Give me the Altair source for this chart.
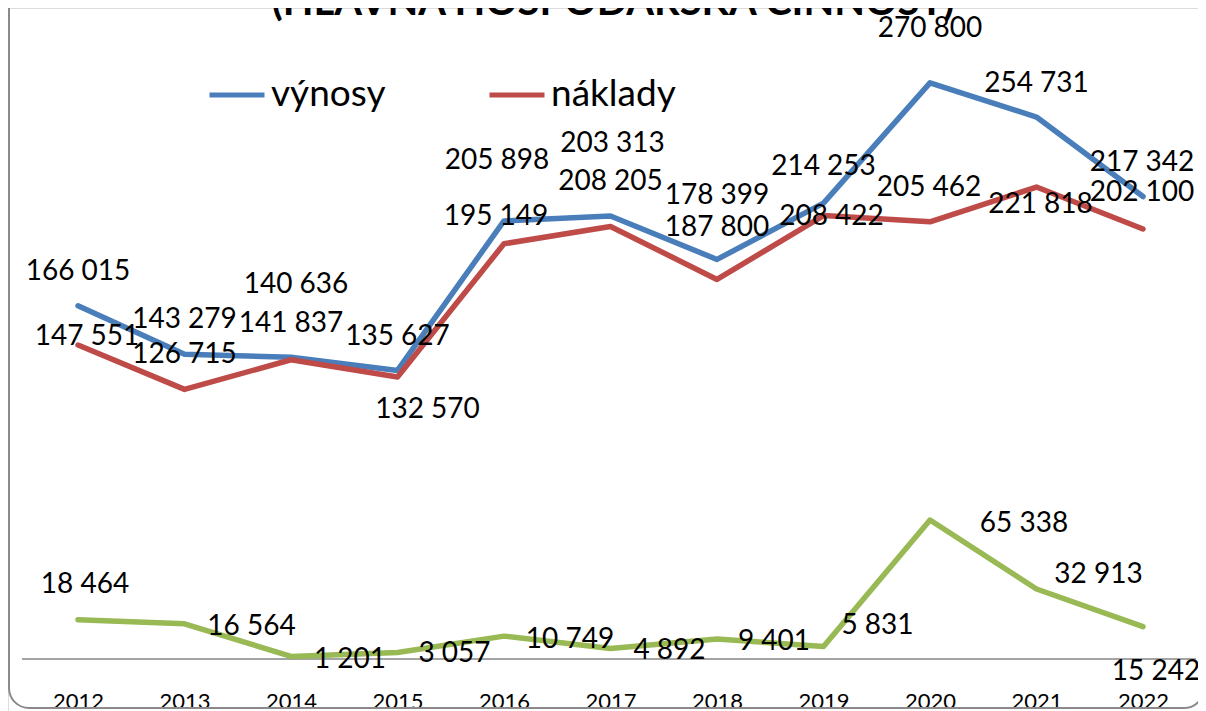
import altair as alt
import pandas as pd

# ---- data ----
years = ["2012", "2013", "2014", "2015", "2016", "2017", "2018", "2019", "2020", "2021", "2022"]
vynosy = [166015, 143279, 141837, 135627, 205898, 208205, 187800, 214253, 270800, 254731, 217342]
naklady = [147551, 126715, 140636, 132570, 195149, 203313, 178399, 208422, 205462, 221818, 202100]
vysledok = [18464, 16564, 1201, 3057, 10749, 4892, 9401, 5831, 65338, 32913, 15242]

series_names = ["výnosy", "náklady", "hospodársky výsledok"]
series_values = [vynosy, naklady, vysledok]
series_colors = ["#4A7EBB", "#BE4B48", "#98B954"]
title_text = "(HLAVNÁ HOSPODÁRSKA ČINNOSŤ)"

# ---- label placement (pixel offsets of each data label from its point) ----
label_dx = [
    [0, 0, 0, 0, -7, 0, 0, 0, 0, 0, -1],
    [9, 0, 5, 30, -8, 2, 0, 8, -1, 4, -1],
    [7, 67, 59, 57, 66, 59, 57, 54, 94, 62, 13],
]
label_dy = [
    [-36, -36, -35, -35, -62, -36, -33, -38, -56, -35, -36],
    [-10, -36, -77, 31, -29, -84, -85, -1, -36, 16, -38],
    [-37, 1, 2, 0, 2, 0, 1, -23, 2, -16, 43],
]

rows = []
for s, (name, vals) in enumerate(zip(series_names, series_values)):
    for i, (yr, v) in enumerate(zip(years, vals)):
        rows.append({
            "id": s * 100 + i,
            "rok": yr,
            "rad": name,
            "hodnota": v,
            "popis": f"{v:,}".replace(",", " "),
        })
df = pd.DataFrame(rows)

FONT = "Lato"
Y_DOMAIN = [-24440, 305970]

x_enc = alt.X(
    "rok:O",
    sort=years,
    scale=alt.Scale(type="point", range=[16.75, 1188.25], padding=0.5),
    axis=alt.Axis(
        title=None, orient="bottom", offset=-20, domain=False, ticks=False,
        tickSize=0, labelPadding=0, labelAngle=0, grid=False,
        labelFont=FONT, labelFontSize=22, labelColor="#000000",
    ),
)
y_enc = alt.Y(
    "hodnota:Q",
    scale=alt.Scale(domain=Y_DOMAIN, nice=False, zero=False),
    axis=None,
)

lines = alt.Chart(df).mark_line(
    strokeWidth=5.5, strokeCap="round", strokeJoin="round"
).encode(
    x=x_enc,
    y=y_enc,
    color=alt.Color(
        "rad:N",
        scale=alt.Scale(domain=series_names, range=series_colors),
        legend=alt.Legend(
            orient="none", legendX=199, legendY=57, direction="horizontal",
            values=["výnosy", "náklady"], title=None,
            symbolType="stroke", symbolSize=3025, symbolStrokeWidth=5,
            labelFont=FONT, labelFontSize=37, labelColor="#000000",
            labelOffset=4, columnPadding=93, padding=0, labelLimit=400,
        ),
    ),
    order=alt.Order("id:Q"),
)

label_layers = []
for s in range(len(series_names)):
    for i in range(len(years)):
        rid = s * 100 + i
        label_layers.append(
            alt.Chart(df).transform_filter(alt.datum.id == rid).mark_text(
                font=FONT, fontSize=28, color="#000000",
                align="center", baseline="middle",
                dx=label_dx[s][i], dy=label_dy[s][i] + 2,
            ).encode(x=x_enc, y=y_enc, text="popis:N")
        )

one = pd.DataFrame({"t": [title_text], "z": [0]})

zero_line = alt.Chart(one).mark_rule(color="#868686", strokeWidth=1.5).encode(
    x=alt.value(14), x2=alt.value(1188),
    y=alt.Y("z:Q", scale=alt.Scale(domain=Y_DOMAIN, nice=False, zero=False), axis=None),
)

border = alt.Chart(one).mark_rect(
    filled=False, stroke="#8A8A8A", strokeWidth=2, cornerRadius=20
).encode(
    x=alt.value(1), x2=alt.value(1196), y=alt.value(-60), y2=alt.value(700)
)

title = alt.Chart(one).mark_text(
    font=FONT, fontSize=40, fontWeight="bold", color="#000000",
    align="center", baseline="alphabetic",
).encode(text="t:N", x=alt.value(605), y=alt.value(7))

chart = alt.layer(
    border, zero_line, title, lines, *label_layers
).properties(
    width=1190, height=703, padding=0, autosize=alt.AutoSizeParams(type="none")
).configure_view(stroke=None).configure(background="white")

chart.save("out.html", embed_options={"renderer": "svg", "actions": False})
